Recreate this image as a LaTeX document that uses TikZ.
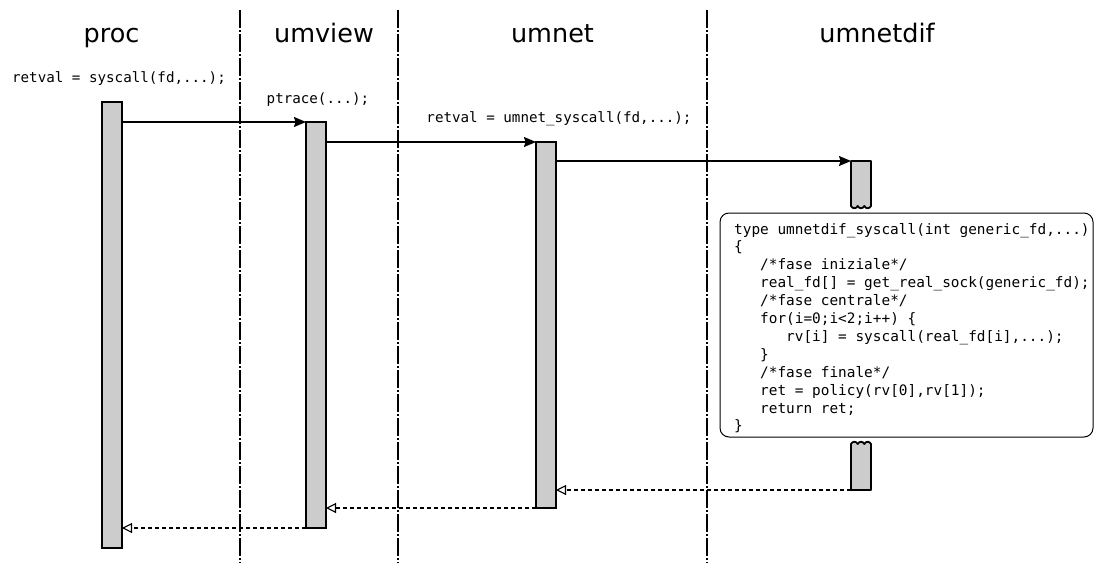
\documentclass[tikz,border=0pt]{standalone}
\usepackage{fontspec}
\setmainfont{DejaVu Sans}
\setmonofont{DejaVu Sans Mono}
\usetikzlibrary{arrows.meta}
\definecolor{barfill}{HTML}{CCCCCC}
\newcommand\codeind{\phantom{000}}
\begin{document}
\begin{tikzpicture}[x=1pt,y=-1pt,
  lane/.style={line width=2pt, dash pattern=on 18pt off 2.2pt on 1.6pt off 2.2pt},
  actbar/.style={draw, line width=1.8pt, fill=barfill, inner sep=0pt, outer sep=0pt,
    minimum width=20pt, anchor=north west},
  hidden/.style={inner sep=0pt, outer sep=0pt, minimum width=20pt, anchor=north west},
  barline/.style={draw, line width=1.8pt, fill=barfill, line join=round},
  header/.style={font=\fontsize{25.5}{30}\selectfont, anchor=base, inner sep=0pt},
  label/.style={font=\fontsize{14.2}{17}\ttfamily, anchor=base, inner sep=0pt},
  codeline/.style={font=\fontsize{14.4}{17}\ttfamily, anchor=base west, inner sep=0pt},
  call/.style={line width=1.2pt, -{Stealth[length=12pt, width=10pt, inset=1.5pt]}},
  reply/.style={line width=1.1pt, dash pattern=on 4pt off 3pt,
    -{Triangle[open, length=10pt, width=10pt, fill=white]}},
]
\useasboundingbox (0,0) rectangle (1094,567);

% lane separators
\draw[lane] (240,10) -- (240,563);
\draw[lane] (398,10) -- (398,563);
\draw[lane] (707,10) -- (707,563);

% lane titles
\node[header] (tproc) at (111.5,43) {proc};
\node[header] (tumview) at (324,43) {umview};
\node[header] (tumnet) at (552.5,43) {umnet};
\node[header] (tumnetdif) at (877,43) {umnetdif};

% call labels
\node[label] (lproc) at (119,83) {retval = syscall(fd,...);};
\node[label] (lumview) at (318,103) {ptrace(...);};
\node[label] (lumnet) at (559,123) {retval = umnet\_syscall(fd,...);};

% activation bars
\node[actbar, minimum height=446pt] (procbar) at (102,102) {};
\node[actbar, minimum height=406pt] (umviewbar) at (306,122) {};
\node[actbar, minimum height=366pt] (umnetbar) at (536,142) {};

% umnetdif activation, broken around the code listing
\node[hidden, minimum height=45pt] (difA) at (851,161) {};
\node[hidden, minimum height=46pt] (difB) at (851,444) {};
\path[barline] (difA.south west) -- (difA.north west) -- (difA.north east) -- (difA.south east)
  .. controls (869.5,209) and (865.8,209) .. (864.3,206)
  .. controls (862.8,209) and (859.2,209) .. (857.7,206)
  .. controls (856.2,209) and (852.5,209) .. (851,206) -- cycle;
\path[barline] (difB.north west)
  .. controls (852.5,441) and (856.2,441) .. (857.7,444)
  .. controls (859.2,441) and (862.8,441) .. (864.3,444)
  .. controls (865.8,441) and (869.5,441) .. (871,444)
  -- (difB.south east) -- (difB.south west) -- cycle;

% code listing
\node[draw, line width=1pt, rounded corners=9pt, inner sep=0pt, outer sep=0pt,
  minimum width=373pt, minimum height=224pt, anchor=north west] (codebox) at (720,213) {};
\node[codeline] (c0) at (734,234) {type umnetdif\_syscall(int generic\_fd,...)};
\node[codeline] (c1) at (734,251.9) {\{};
\node[codeline] (c2) at (734,269.8) {\codeind/*fase iniziale*/};
\node[codeline] (c3) at (734,287.7) {\codeind real\_fd[] = get\_real\_sock(generic\_fd);};
\node[codeline] (c4) at (734,305.6) {\codeind/*fase centrale*/};
\node[codeline] (c5) at (734,323.5) {\codeind for(i=0;i<2;i++) \{};
\node[codeline] (c6) at (734,341.4) {\codeind\codeind rv[i] = syscall(real\_fd[i],...);};
\node[codeline] (c7) at (734,359.3) {\codeind\}};
\node[codeline] (c8) at (734,377.2) {\codeind/*fase finale*/};
\node[codeline] (c9) at (734,395.1) {\codeind ret = policy(rv[0],rv[1]);};
\node[codeline] (c10) at (734,413) {\codeind return ret;};
\node[codeline] (c11) at (734,430.9) {\}};

% calls
\draw[call] (procbar.east |- umviewbar.north) -- (umviewbar.north west);
\draw[call] (umviewbar.east |- umnetbar.north) -- (umnetbar.north west);
\draw[call] (umnetbar.east |- difA.north) -- (difA.north west);

% returns
\draw[reply] (difB.south west) -- (umnetbar.east |- difB.south);
\draw[reply] (umnetbar.south west) -- (umviewbar.east |- umnetbar.south);
\draw[reply] (umviewbar.south west) -- (procbar.east |- umviewbar.south);
\end{tikzpicture}
\end{document}
